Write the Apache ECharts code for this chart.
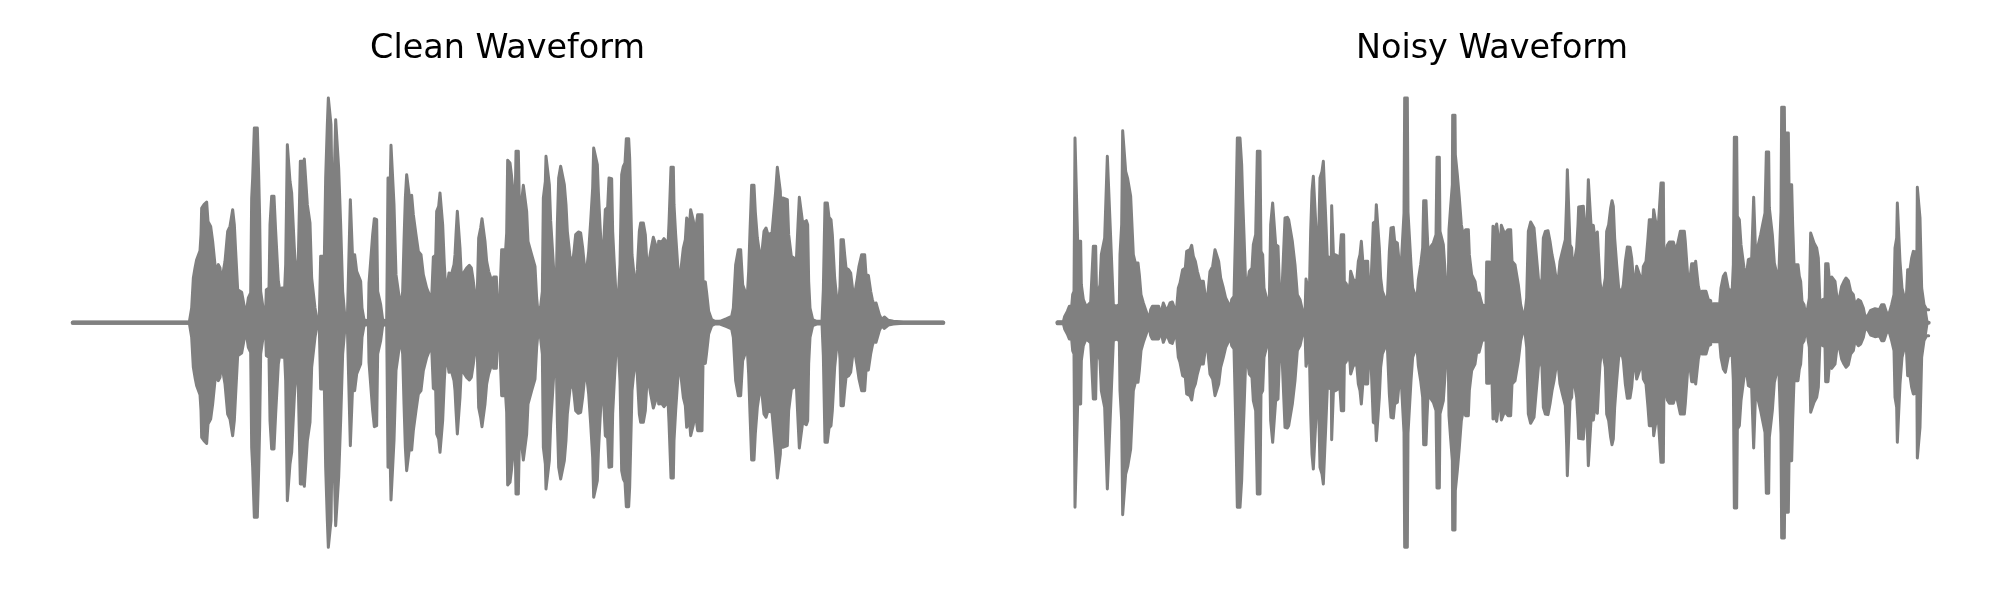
<!DOCTYPE html>
<html>
<head>
<meta charset="utf-8">
<style>html,body{margin:0;padding:0;background:#fff}#c{width:2000px;height:600px}</style>
<script src="https://cdn.jsdelivr.net/npm/echarts@6/dist/echarts.min.js"></script>
</head>
<body>
<div id="c"></div>
<script>
const titles = ["Clean Waveform", "Noisy Waveform"];
const AMP_LIMIT = 728;
const TIME_LIMIT = 2700;

// Envelope readings, one list per stretch of the recording: [time within the stretch, amplitude]
const cleanLeadIn = [[38,2],[388,2]];
const cleanA = [[0,4],[5,44],[10,134],[15,164],[20,189],[30,216],[33,264],[35,344],[42,354],[50,362],[54,304],[62,289],[68,244],[75,174],[80,159],[85,174],[90,164],[94,119],[100,124],[105,184],[113,274],[120,289],[128,339],[133,294],[137,214],[143,99],[155,91],[160,64],[166,29],[170,39],[175,74],[182,89],[185,374],[188,434],[193,584],[202,584],[206,444],[209,314],[212,94],[222,24],[226,9],[229,99],[237,104],[240,294],[245,379],[252,379],[257,274],[265,124],[272,79],[276,104],[284,104],[287,174],[292,534],[298,534],[300,424],[305,389],[310,384],[313,224],[320,109],[325,194],[331,484],[338,484],[340,434],[343,491],[349,489],[352,354],[360,299],[365,134],[375,44],[381,9],[388,19],[392,199],[399,199],[402,134],[407,434],[412,594],[415,674],[420,674],[423,594],[428,254],[434,254],[437,609],[442,609],[446,464],[452,294],[458,94],[465,14],[472,9],[478,14],[481,369],[487,369],[490,134],[494,204],[498,204],[500,154],[506,149],[512,124],[516,44],[522,9],[535,4],[537,119],[543,119],[548,264],[553,312],[560,309],[563,94],[572,54],[578,9],[590,4],[594,434],[601,434],[603,532],[609,532],[612,354],[618,144],[625,94],[632,44],[638,94],[642,244],[646,374],[650,444],[656,444],[658,379],[665,382],[670,324],[678,264],[685,214],[693,204],[700,144],[710,104],[718,84]];
const cleanB = [[0,44],[5,74],[10,197],[17,202],[20,334],[26,349],[30,389],[36,389],[38,294],[43,174],[47,104],[52,114],[57,149],[64,144],[67,139],[72,174],[75,204],[78,264],[82,334],[88,334],[90,224],[94,139],[100,139],[110,164],[118,172],[124,164],[130,124],[134,91],[142,94],[146,254],[152,284],[156,312],[162,312],[165,244],[170,184],[176,154],[182,149],[187,119],[191,137],[199,137],[202,54],[207,9],[212,9],[215,219],[223,219],[226,204],[230,269],[233,487],[240,479],[244,446],[250,446],[255,334],[258,514],[265,514],[268,359],[275,364],[280,412],[286,409],[290,334],[294,244],[305,204],[315,169],[320,74],[326,9],[332,49],[337,94],[340,374],[346,424],[348,499],[354,499],[358,414],[362,306],[368,304],[372,144],[379,119],[382,294],[386,434],[392,469],[398,469],[403,414],[408,354],[412,274],[420,199],[428,179],[433,224],[437,264],[445,272],[452,269],[458,224],[463,174],[470,159],[476,214],[482,304],[488,404],[491,524],[497,522],[502,474],[505,394],[510,294],[513,239],[521,236],[526,339],[533,346],[537,434],[545,432],[548,274],[552,194],[558,84],[565,79],[570,174],[575,444],[580,469],[585,479],[589,552],[596,552],[599,494],[602,374],[606,204],[612,144],[618,109],[622,159],[628,274],[632,299],[640,299],[646,264],[652,154],[657,154],[662,214],[670,256],[676,256],[680,224],[683,179],[686,244],[695,242],[702,252],[708,244],[714,234],[717,299]];
const cleanC = [[3,466],[10,466],[12,354],[17,264],[25,144],[30,134],[36,134],[40,224],[46,249],[50,314],[55,314],[58,289],[62,339],[67,339],[70,306],[75,264],[80,264],[83,324],[96,324],[99,124],[106,122],[110,89],[116,34],[125,9],[135,4],[150,4],[170,12],[185,19],[190,44],[197,174],[205,219],[212,219],[218,114],[225,94],[232,82],[236,154],[240,274],[245,412],[252,412],[256,332],[262,254],[270,199],[276,214],[282,274],[288,284],[294,264],[300,259],[306,269],[312,269],[317,394],[322,466],[328,466],[331,394],[334,269],[338,374],[352,369],[356,264],[364,199],[372,194],[378,164],[384,294],[388,376],[394,374],[398,299],[404,299],[409,306],[413,294],[416,124],[420,44],[428,9],[440,4],[456,4],[460,99],[465,359],[472,359],[477,316],[483,309],[487,264],[494,134],[500,74],[506,54],[510,109],[513,249],[520,249],[524,204],[528,164],[536,159],[542,149],[548,99],[556,97],[562,134],[567,169],[575,204],[584,204],[588,144],[595,142],[602,94],[607,69],[615,44],[618,59],[623,59],[628,24],[635,9],[643,17],[655,7],[670,4],[700,2],[820,2]];
const noisyLeadIn = [[22,3],[40,3]];
const noisyA = [[12,4],[14,19],[22,34],[28,49],[35,49],[38,84],[42,94],[45,554],[51,554],[53,244],[62,244],[64,114],[70,69],[78,49],[85,54],[92,61],[96,64],[100,229],[107,229],[110,69],[116,69],[120,114],[124,204],[130,206],[134,254],[140,259],[142,499],[148,499],[151,279],[156,279],[160,54],[168,49],[178,54],[180,204],[185,294],[188,576],[194,576],[197,454],[203,432],[209,429],[212,379],[218,374],[220,204],[226,179],[234,179],[238,144],[243,84],[250,59],[255,56],[262,24],[268,14],[272,39],[277,49],[296,49],[302,24],[306,29],[310,59],[316,59],[320,34],[324,44],[330,59],[337,62],[343,44],[350,44],[355,104],[360,119],[368,159],[376,164],[380,214],[390,219],[395,232],[400,199],[406,184],[412,154],[420,124],[430,124],[436,79],[443,79],[450,154],[458,169],[465,219],[471,219],[476,184],[482,134],[490,104],[497,74],[507,54],[511,39],[515,69],[522,79],[527,294],[532,554],[540,554],[545,474],[548,374],[552,264],[558,84],[564,84],[568,154],[572,154],[576,164],[580,234],[587,264],[592,514],[600,514],[603,214],[608,204],[612,104],[620,72],[628,69],[632,294],[638,359],[644,359],[647,234],[654,229],[658,114],[665,74],[668,79],[675,314],[682,316],[686,309],[692,309],[697,244],[705,174],[712,84],[720,69]];
const noisyB = [[8,34],[15,24],[18,131],[24,129],[28,84],[32,274],[36,394],[40,439],[46,439],[48,284],[52,214],[56,254],[60,434],[66,454],[70,484],[76,484],[78,294],[82,194],[88,197],[94,199],[95,351],[101,351],[103,129],[106,204],[114,199],[119,184],[124,264],[131,264],[133,124],[139,116],[143,89],[150,119],[152,154],[158,154],[160,129],[170,124],[175,184],[180,204],[184,244],[190,244],[193,124],[196,184],[203,184],[206,114],[212,89],[218,84],[220,299],[227,304],[229,354],[235,354],[238,224],[242,134],[247,94],[255,74],[262,69],[268,214],[273,284],[280,286],[284,244],[292,239],[300,154],[305,199],[308,204],[312,329],[314,674],[322,674],[324,332],[330,329],[333,174],[338,104],[345,84],[350,59],[355,129],[362,174],[368,224],[371,366],[378,366],[381,284],[385,199],[391,199],[393,229],[400,239],[408,264],[411,496],[418,496],[420,274],[426,269],[430,234],[434,174],[437,124],[445,129],[447,279],[452,349],[457,414],[458,622],[465,622],[466,504],[472,444],[478,374],[484,294],[490,262],[497,279],[505,279],[508,204],[515,144],[525,124],[530,89],[537,89],[546,54],[558,49],[560,182],[568,182],[570,139],[576,174],[579,289],[584,279],[590,296],[596,296],[600,214],[604,292],[610,292],[614,266],[620,264],[624,279],[632,279],[636,184],[645,174],[655,114],[662,54],[668,29],[675,29],[680,74],[685,274],[692,302],[698,302],[702,284],[708,214],[716,124],[720,104]];
const noisyC = [[6,134],[10,254],[16,274],[24,276],[30,244],[36,204],[42,174],[48,134],[55,132],[60,184],[66,209],[72,209],[76,249],[80,369],[82,459],[88,459],[90,234],[95,224],[98,154],[102,176],[110,224],[114,294],[116,347],[130,349],[135,284],[140,249],[145,429],[151,429],[153,294],[160,292],[165,249],[172,272],[176,194],[180,124],[186,74],[190,74],[196,134],[200,274],[206,294],[212,344],[216,366],[220,349],[224,254],[230,174],[236,104],[245,89],[250,114],[256,184],[262,227],[270,226],[275,194],[280,134],[284,104],[290,169],[296,169],[302,134],[306,104],[310,169],[318,184],[324,254],[328,309],[336,309],[338,264],[341,339],[347,339],[350,284],[356,306],[362,306],[363,419],[370,419],[372,174],[378,169],[382,232],[388,242],[400,242],[405,224],[412,232],[418,229],[421,274],[433,274],[436,242],[442,242],[446,99],[452,104],[455,177],[462,177],[464,104],[467,184],[473,184],[475,109],[482,79],[486,94],[498,94],[505,69],[512,66],[515,34],[520,57],[533,57],[538,44],[543,104],[550,139],[556,149],[562,144],[565,101],[572,97],[576,84],[580,174],[583,556],[590,556],[592,319],[598,309],[603,234],[612,164],[618,134],[625,189],[635,194],[640,194],[641,376],[646,376],[648,174],[655,234],[662,264],[668,294],[675,329],[679,512],[686,512],[688,344],[693,344],[697,264],[703,179],[710,149],[717,154],[720,249]];
const noisyD = [[3,334],[5,646],[13,646],[15,434],[18,569],[25,569],[27,414],[35,414],[38,294],[42,174],[48,179],[54,174],[58,139],[62,124],[66,64],[72,54],[78,14],[84,14],[88,74],[92,269],[98,269],[102,239],[110,224],[115,194],[120,54],[128,69],[135,72],[137,177],[144,177],[148,129],[155,137],[165,124],[172,66],[178,74],[185,109],[192,124],[198,134],[205,126],[212,94],[220,84],[225,54],[235,69],[242,64],[250,44],[256,14],[265,24],[272,37],[285,42],[298,39],[305,54],[312,54],[320,29],[328,29],[335,54],[342,84],[345,224],[350,254],[352,359],[358,359],[360,184],[366,104],[378,54],[383,159],[390,159],[395,194],[400,214],[407,212],[410,94],[412,406],[418,406],[420,314],[425,104],[432,54],[440,39],[446,39]];

const cleanStretches = [[0, cleanLeadIn], [390, cleanA], [1110, cleanB], [1830, cleanC]];
const noisyStretches = [[0, noisyLeadIn], [30, noisyA], [750, noisyB], [1470, noisyC], [2190, noisyD]];
const stitch = list => list.flatMap(([start, pts]) => pts.map(p => [start + p[0], p[1]]));
const waves = [stitch(cleanStretches), stitch(noisyStretches)];
const GREY = "#808080";

const grids = [
  {left: 60, top: 80, width: 900, height: 485.33},
  {left: 1050, top: 80, width: 900, height: 485.33}
];
const xAxes = grids.map((g, i) => ({gridIndex: i, type: "value", min: 0, max: TIME_LIMIT, show: false}));
const yAxes = grids.map((g, i) => ({gridIndex: i, type: "value", min: -AMP_LIMIT, max: AMP_LIMIT, show: false}));
const series = [];
waves.forEach((w, i) => {
  [1, -1].forEach(sign => {
    series.push({
      type: "line", xAxisIndex: i, yAxisIndex: i, silent: true,
      data: w.map(p => [p[0], sign * p[1]]),
      showSymbol: false, symbol: "none", smooth: false, sampling: false,
      clip: false,
      lineStyle: {color: GREY, width: 3, join: "round", cap: "round"},
      areaStyle: {color: GREY, opacity: 1, origin: 0}
    });
  });
  // zero line closes the seam between the upper and lower envelope
  series.push({
    type: "line", xAxisIndex: i, yAxisIndex: i, silent: true,
    data: [[w[0][0], 0], [w[w.length - 1][0], 0]],
    showSymbol: false, symbol: "none", clip: false,
    lineStyle: {color: GREY, width: 4, cap: "round"}
  });
});
const chart = echarts.init(document.getElementById("c"), null, {renderer: "canvas"});
chart.setOption({
  animation: false,
  backgroundColor: "#fff",
  title: titles.map((t, i) => ({
    text: t, left: [502.5, 1487][i], top: 28, textAlign: "center",
    textStyle: {fontFamily: "DejaVu Sans", fontSize: 33.4, fontWeight: "normal", color: "#000"}
  })),
  grid: grids, xAxis: xAxes, yAxis: yAxes, series
});
</script>
</body>
</html>
